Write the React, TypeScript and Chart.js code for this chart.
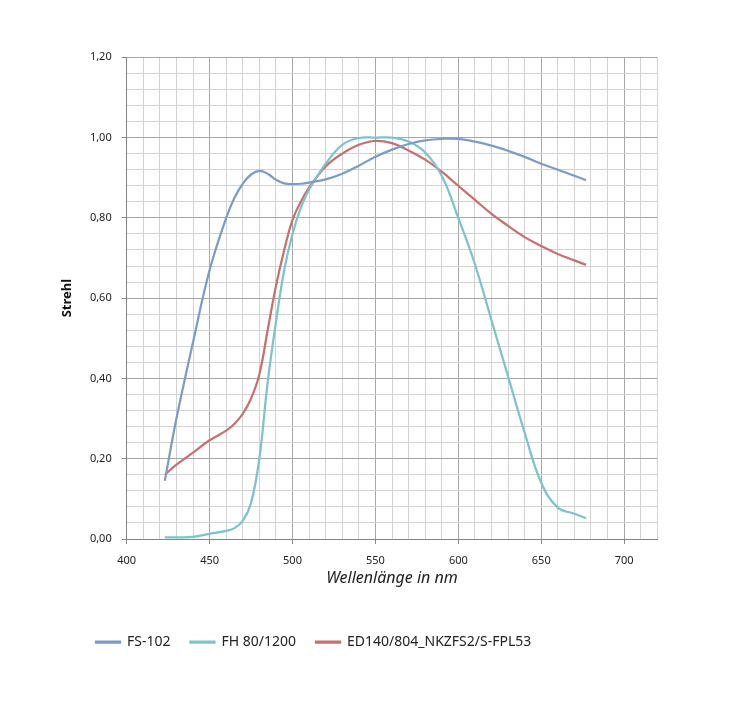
import { useEffect, useRef } from 'react';
import { Chart, registerables } from 'chart.js';

Chart.register(...registerables);

// wavelength in nm
const wavelengths = [423, 430, 440, 450, 460, 465, 470, 475, 480, 485, 490, 495, 500, 505, 510, 520, 530, 540, 550, 560, 570, 580, 590, 600, 610, 620, 630, 640, 650, 660, 670, 677];

// Strehl per lens
const fs102 = [0.145, 0.3, 0.49, 0.67, 0.8, 0.85, 0.885, 0.908, 0.917, 0.91, 0.895, 0.886, 0.884, 0.885, 0.888, 0.896, 0.91, 0.93, 0.952, 0.97, 0.984, 0.993, 0.997, 0.997, 0.99, 0.98, 0.967, 0.952, 0.935, 0.92, 0.905, 0.894];
const fh80 = [0.004, 0.004, 0.005, 0.013, 0.02, 0.027, 0.045, 0.09, 0.2, 0.39, 0.54, 0.67, 0.76, 0.825, 0.87, 0.935, 0.982, 0.999, 1.0, 1.0, 0.99, 0.963, 0.905, 0.8, 0.685, 0.545, 0.405, 0.265, 0.14, 0.078, 0.063, 0.052];
const ed140 = [0.16, 0.185, 0.215, 0.246, 0.27, 0.287, 0.312, 0.35, 0.41, 0.52, 0.63, 0.72, 0.795, 0.84, 0.875, 0.928, 0.96, 0.982, 0.992, 0.986, 0.968, 0.945, 0.915, 0.88, 0.845, 0.81, 0.78, 0.752, 0.73, 0.71, 0.694, 0.683];

const seriesNames = ['FS-102', 'FH 80/1200', 'ED140/804_NKZFS2/S-FPL53'];

const FONT = "'Noto Sans', 'Open Sans', sans-serif";

const isMajor = (v: number, step: number) => Math.abs(v / step - Math.round(v / step)) < 1e-6;
const toPoints = (ys: number[]) => ys.map((y, i) => ({ x: wavelengths[i], y }));

export default function App() {
  const chartRef = useRef<HTMLCanvasElement>(null);

  useEffect(() => {
    if (!chartRef.current) return;

    const line = (label: string, ys: number[], color: string) => ({
      label,
      data: toPoints(ys),
      borderColor: color,
      backgroundColor: color,
      borderWidth: 2.25,
      pointRadius: 0,
      tension: 0.4,
    });

    const chart = new Chart(chartRef.current, {
      type: 'line',
      data: {
        datasets: [
          line(seriesNames[0], fs102, '#7a9dc7'),
          line(seriesNames[1], fh80, '#7cc4cb'),
          line(seriesNames[2], ed140, '#c8706e'),
        ],
      },
      options: {
        responsive: false,
        animation: false,
        layout: { padding: { left: 76, right: 71.7, top: 57.3, bottom: 58 } },
        scales: {
          x: {
            type: 'linear',
            min: 400,
            max: 720,
            afterFit: (axis: any) => { axis.height = 76; },
            ticks: {
              stepSize: 10,
              autoSkip: false,
              maxRotation: 0,
              padding: 10,
              color: '#222',
              font: { family: FONT, size: 11 },
              callback: (v: any) => (isMajor(Number(v), 50) ? String(v) : ''),
            },
            grid: {
              color: (c: any) => (isMajor(c.tick.value, 50) ? '#a6a6a6' : '#d2d2d2'),
              tickColor: (c: any) => (isMajor(c.tick.value, 50) ? '#868686' : 'rgba(0,0,0,0)'),
              tickLength: 5,
            },
            border: { color: '#868686', width: 1 },
            title: {
              display: true,
              text: 'Wellenlänge in nm',
              color: '#222',
              font: { family: FONT, size: 16, style: 'italic' },
              padding: { top: 0, bottom: 27 },
            },
          },
          y: {
            min: 0,
            max: 1.2,
            afterFit: (axis: any) => { axis.width = 50.7; },
            ticks: {
              stepSize: 0.04,
              autoSkip: false,
              padding: 10,
              color: '#222',
              font: { family: FONT, size: 11 },
              callback: (v: any) => (isMajor(Number(v), 0.2) ? Number(v).toFixed(2).replace('.', ',') : ''),
            },
            grid: {
              color: (c: any) => (isMajor(c.tick.value, 0.2) ? '#a6a6a6' : '#d2d2d2'),
              tickColor: (c: any) => (isMajor(c.tick.value, 0.2) ? '#868686' : 'rgba(0,0,0,0)'),
              tickLength: 5,
            },
            border: { color: '#868686', width: 1 },
            title: {
              display: true,
              text: 'Strehl',
              color: '#111',
              font: { family: FONT, size: 13, weight: 'bold' },
              padding: { top: -16.3, bottom: 0 },
            },
          },
        },
        plugins: {
          legend: {
            position: 'bottom',
            align: 'start',
            labels: {
              boxWidth: 24,
              boxHeight: 1,
              padding: 20,
              color: '#222',
              font: { family: FONT, size: 14 },
            },
          },
          tooltip: { enabled: false },
        },
      },
    });

    return () => {
      chart.destroy();
    };
  }, []);

  return (
    <div style={{ position: 'absolute', left: 0, top: 0, width: 729, height: 717, background: '#fff' }}>
      <canvas ref={chartRef} width={729} height={717} style={{ display: 'block' }} />
    </div>
  );
}
